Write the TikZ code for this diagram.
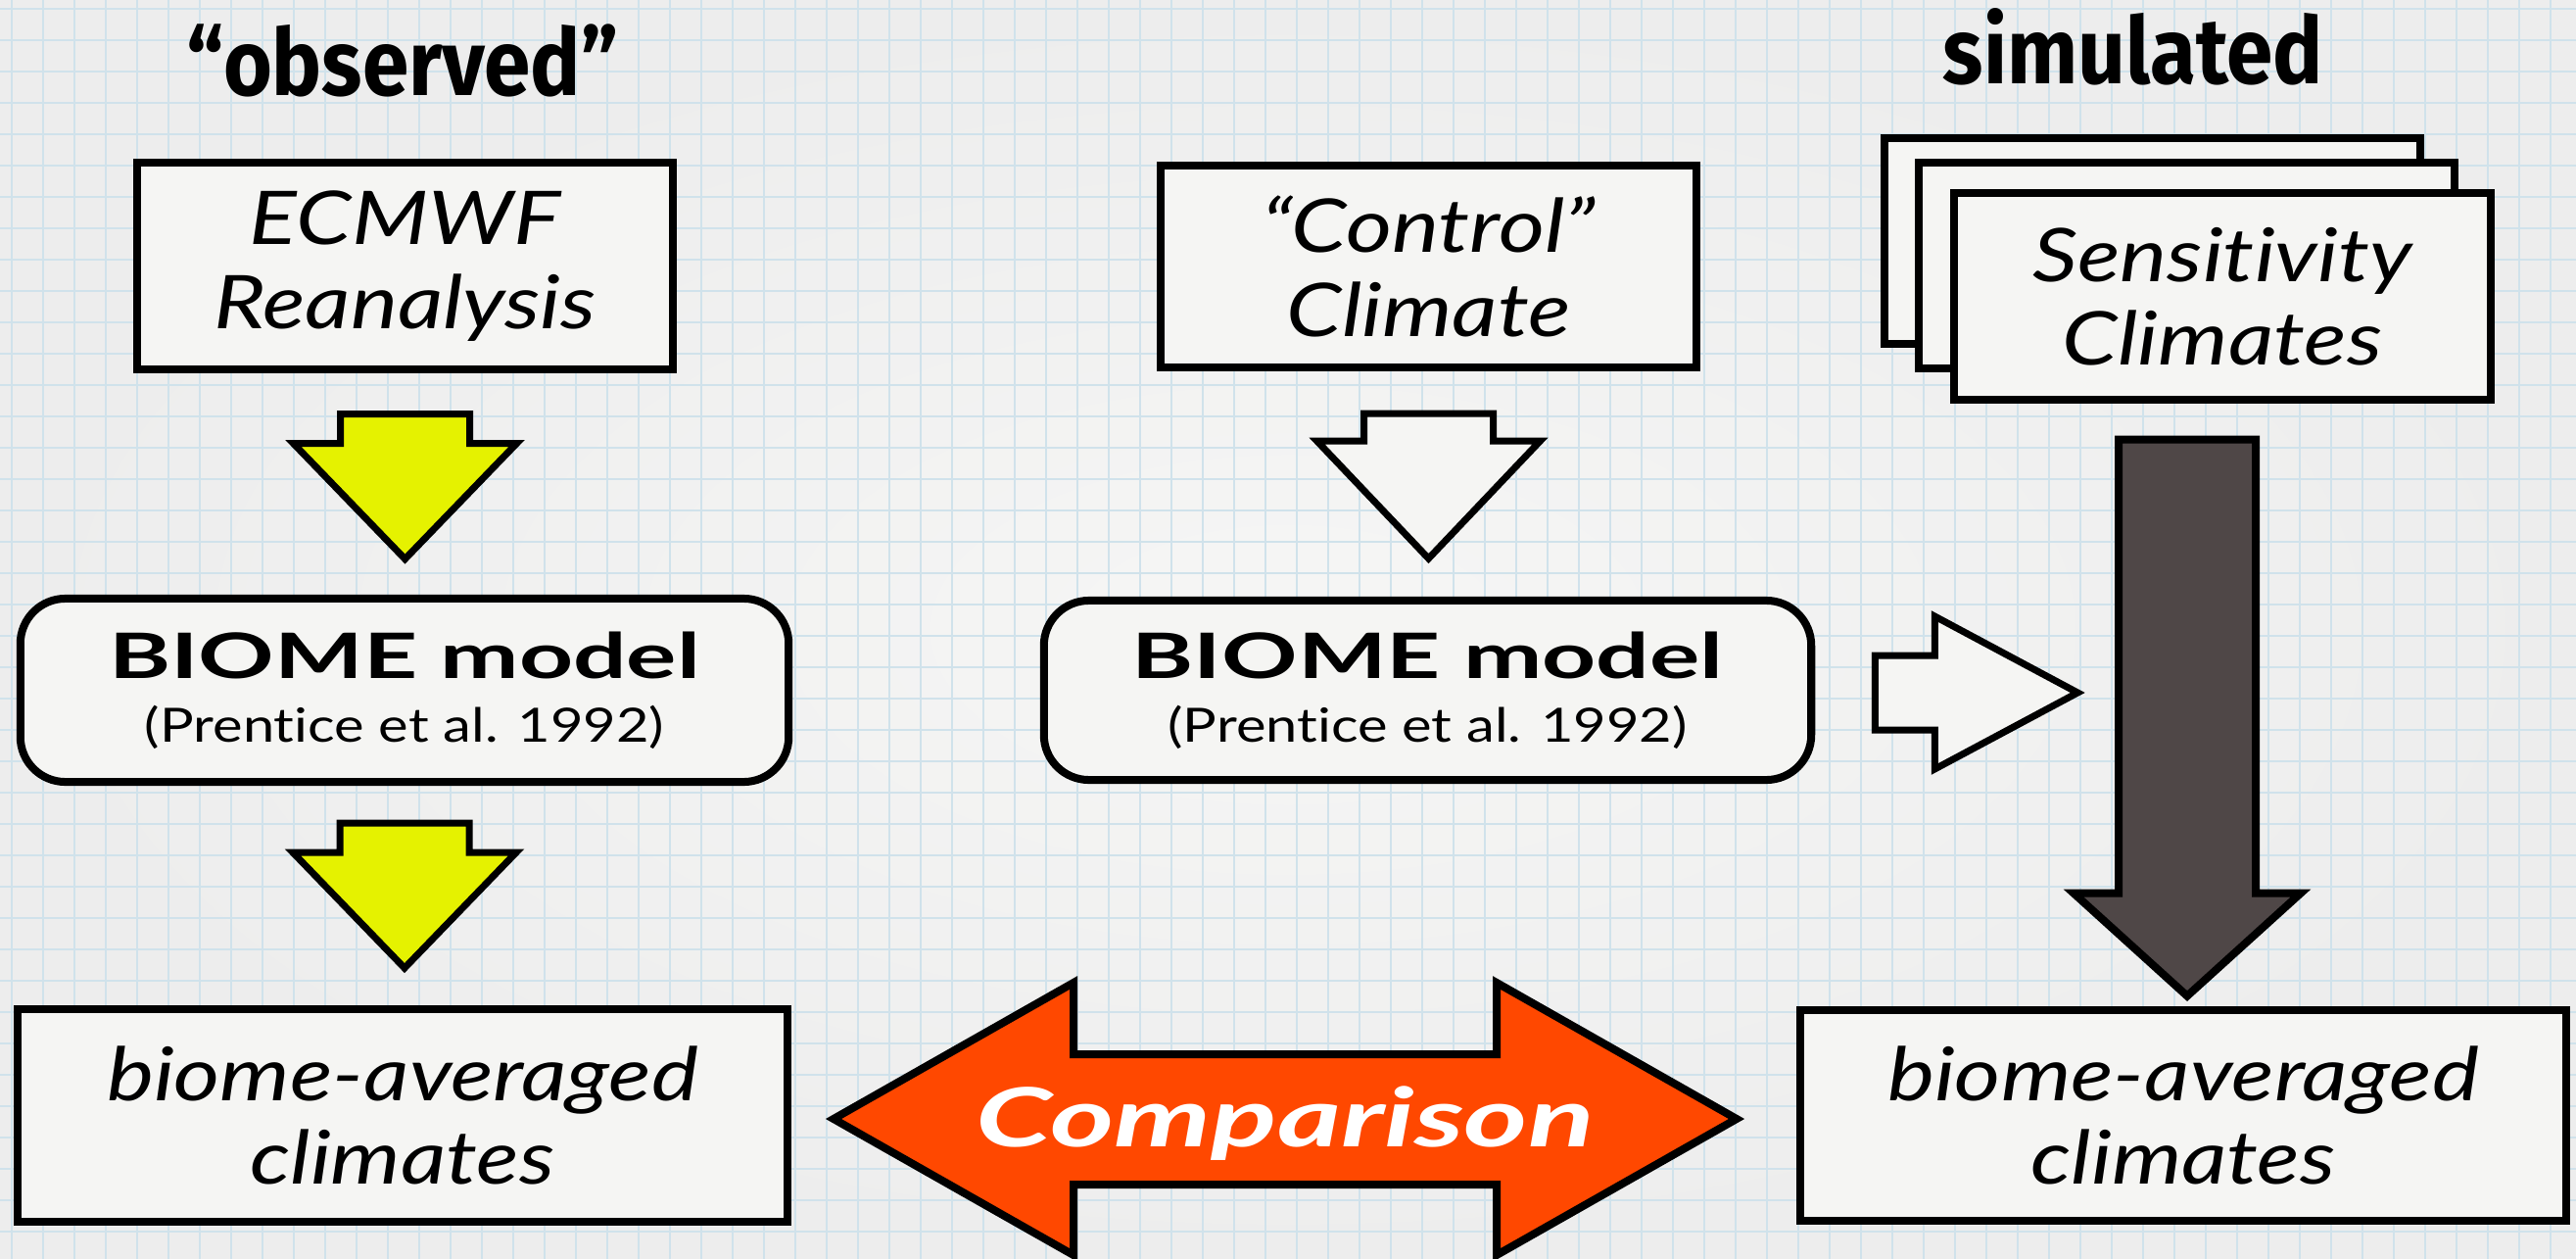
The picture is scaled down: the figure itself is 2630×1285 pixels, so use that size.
\documentclass[tikz,border=0pt]{standalone}
\usepackage{fontspec}
\usepackage{graphicx}
\setmainfont{Lato}[FakeStretch=1.2, Ligatures=NoCommon]
\newfontfamily\titlefont{Fira Sans}[FakeStretch=0.9]
\usetikzlibrary{calc}
\definecolor{bgin}{RGB}{246,246,245}
\definecolor{bgout}{RGB}{237,237,237}
\definecolor{gridc}{RGB}{208,226,235}
\definecolor{boxfill}{RGB}{245,245,243}
\definecolor{yellowc}{RGB}{229,242,0}
\definecolor{darkc}{RGB}{79,71,71}
\definecolor{orangec}{RGB}{255,72,0}
\tikzset{
  gridl/.style={draw=gridc, line width=0.025cm},
  sqbox/.style={draw=black, line width=0.08cm, fill=boxfill, inner sep=0pt,
    minimum width=5.47cm, minimum height=2.1cm, align=center,
    font=\fontsize{21.5}{24.3}\selectfont\itshape},
  rbox/.style={draw=black, line width=0.08cm, fill=boxfill, inner sep=0pt,
    rounded corners=0.46cm, minimum width=7.84cm, minimum height=1.87cm,
    align=center, font=\fontsize{13.7}{18.5}\selectfont},
  avgbox/.style={draw=black, line width=0.08cm, fill=boxfill, inner sep=0pt,
    minimum width=7.86cm, minimum height=2.16cm, align=center,
    font=\fontsize{21.5}{24}\selectfont\itshape},
  titletext/.style={font=\titlefont\bfseries\fontsize{27}{30}\selectfont, inner sep=0pt},
  blk/.style={draw=black, line width=0.07cm, line join=miter},
}
\newcommand{\biomebold}{{\fontsize{18.2}{18.5}\selectfont\bfseries\scalebox{1.25}[1]{BIOME model}}}
\begin{document}
\begin{tikzpicture}[x=0.01cm,y=-0.01cm]
\useasboundingbox (0,0) rectangle (2630,1285);
\shade[inner color=bgin, outer color=bgout] (0,0) rectangle (2630,1285);
\foreach \gx in {12,44,...,2630} \draw[gridl] (\gx,0) -- (\gx,1285);
\foreach \gy in {9,41,...,1285} \draw[gridl] (0,\gy) -- (2630,\gy);

% titles
\node[titletext, anchor=base] (obs) at (411,98) {“observed”};
\node[titletext, anchor=base] (sim) at (2178,86) {simulated};

% top boxes
\node[sqbox] (ecmwf) at (413.5,271.5) {ECMWF\\Reanalysis};
\node[sqbox, minimum height=2.06cm] (control) at (1458.5,272) {“Control”\\Climate};
\node[sqbox] (sensB) at (2197.5,246) {};
\node[sqbox] (sensM) at (2232.5,271) {};
\node[sqbox] (sens) at (2269,302.5) {Sensitivity\\Climates};

% biome model boxes
\node[rbox] (biomeL) at (413,704.5) {\biomebold\\(Prentice et al. 1992)};
\node[rbox, minimum width=7.83cm, minimum height=1.83cm] (biomeM) at (1457.5,704.5) {\biomebold\\(Prentice et al. 1992)};

% result boxes
\node[avgbox] (avgL) at (411,1138.5) {biome-averaged\\climates};
\node[avgbox, minimum width=7.82cm, minimum height=2.15cm] (avgR) at (2229,1138.5) {biome-averaged\\climates};

% down arrows (yellow, white)
\path[blk, fill=yellowc, shift={($(ecmwf.south)+(0,42)$)}]
  (-66,0) -- (66,0) -- (66,30) -- (114,30) -- (0,148) -- (-114,30) -- (-66,30) -- cycle;
\path[blk, fill=yellowc, shift={($(biomeL.south)+(0,38)$)}]
  (-66,0) -- (66,0) -- (66,30) -- (114,30) -- (0,148) -- (-114,30) -- (-66,30) -- cycle;
\path[blk, fill=boxfill, shift={($(control.south)+(0,43)$)}]
  (-66,0) -- (66,0) -- (66,28) -- (114,28) -- (0,148) -- (-114,28) -- (-66,28) -- cycle;

% right white arrow
\path[blk, fill=boxfill, shift={($(biomeM.east)+(61,2.5)$)}]
  (0,-38) -- (61,-38) -- (61,-78) -- (207,0) -- (61,78) -- (61,38) -- (0,38) -- cycle;

% dark arrow
\path[blk, line width=0.08cm, fill=darkc, shift={($(sens.south)+(-36,37)$)}]
  (-70,0) -- (70,0) -- (70,463) -- (116,463) -- (0,568) -- (-116,463) -- (-70,463) -- cycle;

% comparison double arrow
\path[blk, line width=0.08cm, fill=orangec]
  (851,1142) -- (1096,1003) -- (1096,1076) -- (1528,1076) -- (1528,1003) -- (1773,1142)
  -- (1528,1281) -- (1528,1209) -- (1096,1209) -- (1096,1281) -- cycle;
\node[anchor=base, inner sep=0pt, text=white, font=\fontsize{23.7}{26}\selectfont\bfseries\itshape]
  (cmp) at (1312,1170) {\scalebox{1.25}[1]{Comparison}};
\end{tikzpicture}
\end{document}
